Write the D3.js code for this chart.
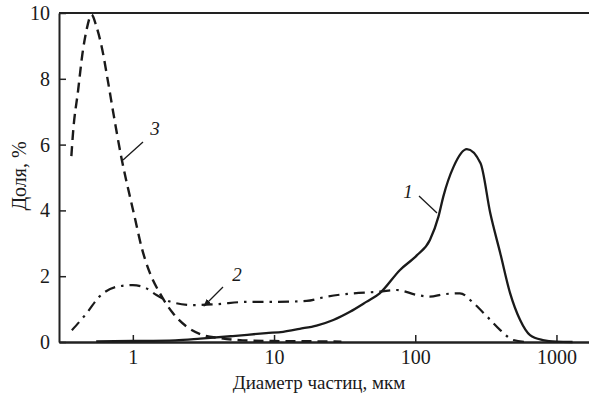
<!DOCTYPE html>
<html>
<head>
<meta charset="utf-8">
<script src="https://cdn.jsdelivr.net/npm/d3@7/dist/d3.min.js"></script>
<style>
  html, body { margin: 0; padding: 0; background: #fff; }
  svg { display: block; }
</style>
</head>
<body>
<svg id="chart" width="589" height="396"></svg>
<script>
// ---- data ----
const xTicks = [1, 10, 100, 1000];
const xTickLabels = ["1", "10", "100", "1000"];
const yTicks = [0, 2, 4, 6, 8, 10];
const yTickLabels = ["0", "2", "4", "6", "8", "10"];

const diam1 = [0.55, 1, 2, 3, 5.1, 8.8, 11.6, 15.2, 20, 26.3, 34.5, 45, 56, 78, 103, 127, 146, 158, 187, 232, 290, 340, 400, 470, 553, 650, 800, 1000, 1300];
const share1 = [0.02, 0.03, 0.05, 0.1, 0.18, 0.27, 0.31, 0.4, 0.5, 0.67, 0.92, 1.22, 1.48, 2.19, 2.64, 3.1, 3.81, 4.42, 5.33, 5.86, 5.43, 3.91, 2.7, 1.48, 0.67, 0.21, 0.06, 0.01, 0];

const diam2 = [0.37, 0.47, 0.58, 0.77, 1.0, 1.25, 1.47, 1.83, 2.68, 3.92, 6.4, 10.4, 17, 23.6, 36.6, 56, 74, 103, 127, 158, 207, 259, 323, 400, 495, 620];
const share2 = [0.36, 0.87, 1.38, 1.68, 1.73, 1.63, 1.43, 1.23, 1.12, 1.15, 1.22, 1.22, 1.25, 1.38, 1.48, 1.53, 1.58, 1.43, 1.38, 1.45, 1.48, 1.18, 0.77, 0.36, 0.06, 0];

const diam3 = [0.367, 0.377, 0.41, 0.44, 0.47, 0.51, 0.553, 0.6, 0.668, 0.725, 0.83, 0.95, 1.03, 1.15, 1.32, 1.55, 1.92, 2.4, 3.14, 4.1, 6, 10, 20, 30];
const share3 = [5.65, 6.35, 7.66, 8.77, 9.48, 9.95, 9.58, 9.0, 7.9, 7.0, 5.6, 4.45, 3.8, 2.9, 2.1, 1.49, 0.88, 0.47, 0.21, 0.12, 0.05, 0.03, 0.02, 0.01];

const xTitle = "Диаметр частиц, мкм";
const yTitle = "Доля, %";

// ---- chart ----
const svg = d3.select("#chart");
const x = d3.scaleLog().domain([0.3, 1700]).range([59, 589]);
const y = d3.scaleLinear().domain([0, 10]).range([342, 13]);
const SERIF = "Liberation Serif";
const INK = "#1a1a1a";

// frame
svg.append("line").attr("x1", 59).attr("x2", 589).attr("y1", y(10)).attr("y2", y(10))
  .attr("stroke", "#222").attr("stroke-width", 2);

const yAxis = d3.axisLeft(y).tickValues(yTicks).tickFormat((d, i) => yTickLabels[i])
  .tickSizeInner(-7).tickSizeOuter(0).tickPadding(9);
const gy = svg.append("g").attr("transform", "translate(59,0)").call(yAxis)
  .attr("font-family", SERIF).attr("font-size", 20);
gy.selectAll(".tick text").attr("font-family", SERIF).attr("fill", INK);
gy.selectAll(".tick line").attr("stroke", "#222").attr("stroke-width", 1.5);
gy.select(".domain").attr("stroke", "#222").attr("stroke-width", 2);

const xAxis = d3.axisBottom(x).tickValues(xTicks).tickFormat((d, i) => xTickLabels[i])
  .tickSizeInner(-7).tickSizeOuter(0).tickPadding(8);
const gx = svg.append("g").attr("transform", "translate(0,342)").call(xAxis)
  .attr("font-family", SERIF).attr("font-size", 20);
gx.selectAll(".tick text").attr("font-family", SERIF).attr("fill", INK);
gx.selectAll(".tick line").attr("stroke", "#222").attr("stroke-width", 1.5);
gx.select(".domain").attr("stroke", "#222").attr("stroke-width", 2.5);

// curves
const line = d3.line().x(d => x(d[0])).y(d => y(d[1])).curve(d3.curveMonotoneX);
const zip = (a, b) => a.map((v, i) => [v, b[i]]);

svg.append("path").datum(zip(diam1, share1)).attr("d", line)
  .attr("fill", "none").attr("stroke", INK).attr("stroke-width", 2.3);
svg.append("path").datum(zip(diam2, share2)).attr("d", line)
  .attr("fill", "none").attr("stroke", INK).attr("stroke-width", 2.2)
  .attr("stroke-dasharray", "11,6,2.5,6");
svg.append("path").datum(zip(diam3, share3)).attr("d", line)
  .attr("fill", "none").attr("stroke", INK).attr("stroke-width", 2.4)
  .attr("stroke-dasharray", "10,6");

// curve labels with leaders
svg.append("defs").append("marker").attr("id", "arr").attr("viewBox", "0 0 10 10")
  .attr("refX", 9).attr("refY", 5).attr("markerWidth", 6).attr("markerHeight", 6)
  .attr("orient", "auto").append("path").attr("d", "M0,1 L10,5 L0,9 z").attr("fill", INK);

const leaders = [
  {t: "1", tx: 408, ty: 198, x1: 419, y1: 196, x2: 437, y2: 213, arrow: false},
  {t: "2", tx: 237, ty: 281, x1: 223, y1: 287, x2: 204, y2: 306, arrow: true},
  {t: "3", tx: 155, ty: 135, x1: 143, y1: 142, x2: 123, y2: 160, arrow: false}
];
leaders.forEach(l => {
  svg.append("line").attr("x1", l.x1).attr("y1", l.y1).attr("x2", l.x2).attr("y2", l.y2)
    .attr("stroke", INK).attr("stroke-width", 1.3)
    .attr("marker-end", l.arrow ? "url(#arr)" : null);
  svg.append("text").attr("x", l.tx).attr("y", l.ty).attr("text-anchor", "middle")
    .attr("font-family", SERIF).attr("font-size", 19).attr("font-style", "italic")
    .attr("fill", INK).text(l.t);
});

// titles
svg.append("text").attr("x", 319).attr("y", 389).attr("text-anchor", "middle")
  .attr("font-family", SERIF).attr("font-size", 19).attr("fill", INK).text(xTitle);
svg.append("text").attr("transform", "translate(26,176) rotate(-90)").attr("text-anchor", "middle")
  .attr("font-family", SERIF).attr("font-size", 20).attr("fill", INK).text(yTitle);
</script>
</body>
</html>
